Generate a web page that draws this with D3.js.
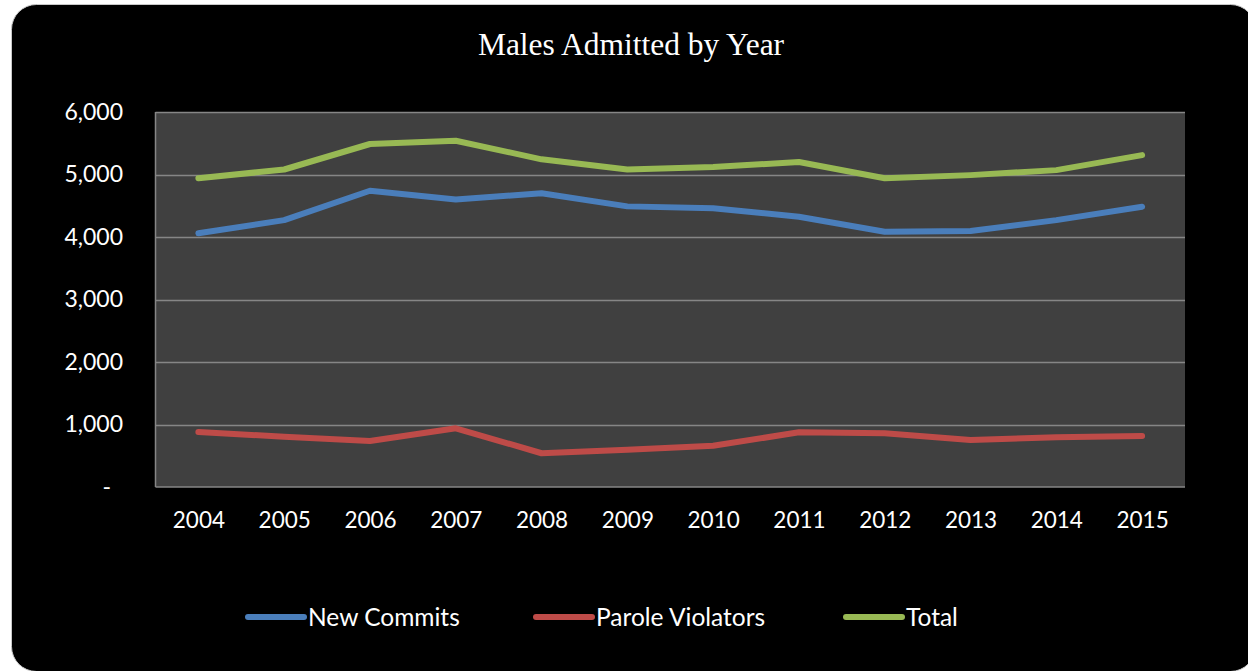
<!DOCTYPE html>
<html>
<head>
<meta charset="utf-8">
<script src="https://cdn.jsdelivr.net/npm/d3@7"></script>
<style>
  html, body { margin: 0; padding: 0; background: #ffffff; }
  svg { display: block; }
</style>
</head>
<body>
<svg id="chart" width="1248" height="671"></svg>
<script>
// Admissions of males per year, by type
const years = ["2004","2005","2006","2007","2008","2009","2010","2011","2012","2013","2014","2015"];
const newCommits = [4060, 4270, 4740, 4600, 4700, 4490, 4460, 4325, 4085, 4095, 4270, 4485];
const paroleViolators = [880, 805, 736, 939, 540, 595, 660, 875, 860, 752, 795, 816];
const total = [4940, 5080, 5488, 5540, 5243, 5080, 5120, 5200, 4940, 4990, 5070, 5310];
const yTicks = [0, 1000, 2000, 3000, 4000, 5000, 6000];
const seriesNames = ["New Commits", "Parole Violators", "Total"];
const seriesColors = ["#4A7EBB", "#BE4B48", "#98B954"];

const series = [newCommits, paroleViolators, total].map((values, i) => ({
  name: seriesNames[i], color: seriesColors[i], values
}));

const svg = d3.select("#chart");

// Rounded black card
svg.append("rect")
  .attr("x", 11.5).attr("y", 4.5)
  .attr("width", 1244).attr("height", 667)
  .attr("rx", 25).attr("ry", 25)
  .attr("fill", "#000")
  .attr("stroke", "#c8c8c8").attr("stroke-width", 1);

const plot = { left: 155.5, right: 1185, top: 112, bottom: 487 };

const x = d3.scalePoint().domain(years).range([plot.left, plot.right]).padding(0.5);
const y = d3.scaleLinear().domain([0, 6000]).range([plot.bottom, plot.top]);

// Plot area
svg.append("rect")
  .attr("x", plot.left).attr("y", plot.top)
  .attr("width", plot.right - plot.left).attr("height", plot.bottom - plot.top)
  .attr("fill", "#404040");

// Horizontal gridlines
svg.append("g").selectAll("line").data(yTicks.filter(d => d > 0)).join("line")
  .attr("x1", plot.left).attr("x2", plot.right)
  .attr("y1", d => Math.round(y(d)) + 0.5).attr("y2", d => Math.round(y(d)) + 0.5)
  .attr("stroke", "#868686").attr("stroke-width", 1.5);

// Axis lines
svg.append("line")
  .attr("x1", plot.left).attr("x2", plot.right)
  .attr("y1", plot.bottom).attr("y2", plot.bottom)
  .attr("stroke", "#868686").attr("stroke-width", 1.5);
svg.append("line")
  .attr("x1", plot.left).attr("x2", plot.left)
  .attr("y1", plot.top).attr("y2", plot.bottom)
  .attr("stroke", "#868686").attr("stroke-width", 1.5);

const labelFont = "Lato, 'Open Sans', sans-serif";

// Y axis labels
const yAxis = d3.axisLeft(y).tickValues(yTicks).tickSize(0).tickPadding(0)
  .tickFormat(d => d === 0 ? "-" : d3.format(",")(d));
const gy = svg.append("g").attr("transform", `translate(123,0)`).call(yAxis);
gy.select(".domain").remove();
gy.selectAll("text")
  .attr("fill", "#fff")
  .style("font-family", labelFont).style("font-size", "23px")
  .attr("dx", d => d === 0 ? -12 : 0);

// X axis labels
const xAxis = d3.axisBottom(x).tickSize(0).tickPadding(0);
const gx = svg.append("g").attr("transform", `translate(0,512)`).call(xAxis);
gx.select(".domain").remove();
gx.selectAll("text")
  .attr("fill", "#fff")
  .style("font-family", labelFont).style("font-size", "22.5px");

// Series lines
const line = d3.line().x((d, i) => x(years[i])).y(d => y(d));
svg.append("g").selectAll("path").data(series).join("path")
  .attr("d", d => line(d.values))
  .attr("fill", "none")
  .attr("stroke", d => d.color)
  .attr("stroke-width", 6)
  .attr("stroke-linecap", "round")
  .attr("stroke-linejoin", "round");

// Title
svg.append("text")
  .attr("x", 631).attr("y", 55)
  .attr("text-anchor", "middle")
  .attr("fill", "#fff")
  .style("font-family", "'Liberation Serif', 'Times New Roman', serif")
  .style("font-size", "31.5px")
  .text("Males Admitted by Year");

// Legend
const legendX = [248, 536, 846];
const lg = svg.append("g").selectAll("g").data(series).join("g")
  .attr("transform", (d, i) => `translate(${legendX[i]},617)`);
lg.append("line")
  .attr("x1", 0).attr("x2", 56).attr("y1", 0).attr("y2", 0)
  .attr("stroke", d => d.color).attr("stroke-width", 6)
  .attr("stroke-linecap", "round");
lg.append("text")
  .attr("x", 60).attr("y", 0).attr("dy", "0.35em")
  .attr("fill", "#fff")
  .style("font-family", labelFont).style("font-size", "24.5px")
  .text(d => d.name);
</script>
</body>
</html>
